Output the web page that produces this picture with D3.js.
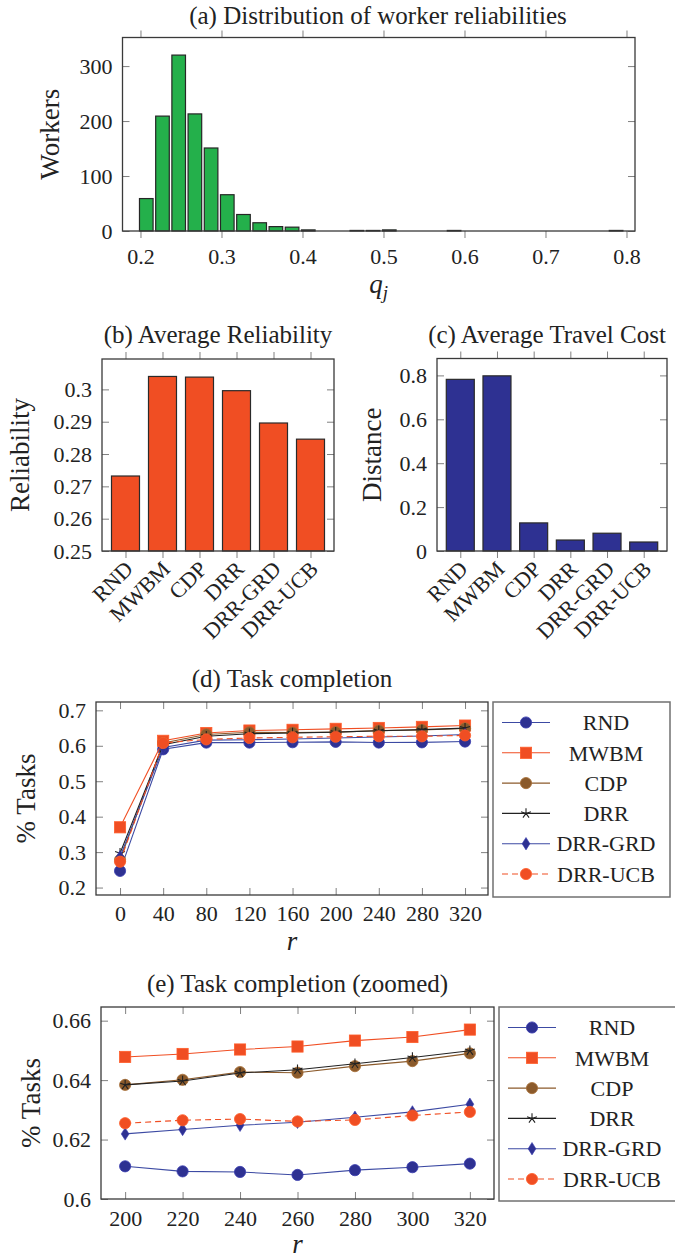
<!DOCTYPE html>
<html>
<head>
<meta charset="utf-8">
<script src="https://cdn.jsdelivr.net/npm/d3@7"></script>
<style>
  html, body { margin: 0; padding: 0; background: #fff; }
  svg text { font-family: "Liberation Serif", "DejaVu Serif", serif; fill: #222; }
</style>
</head>
<body>
<svg id="chart" width="675" height="1259"></svg>
<script>
// (a) histogram of worker reliabilities, bins of width 0.02
const binStarts = [0.20, 0.22, 0.24, 0.26, 0.28, 0.30, 0.32, 0.34, 0.36, 0.38,
                   0.40, 0.42, 0.44, 0.46, 0.48, 0.50, 0.52, 0.54, 0.56, 0.58,
                   0.60, 0.62, 0.64, 0.66, 0.68, 0.70, 0.72, 0.74, 0.76, 0.78];
const workerCounts = [59, 209, 320, 213, 151, 66, 30, 15, 8, 7,
                      2, 0, 0, 1, 1, 2, 0, 0, 0, 1,
                      0, 0, 0, 0, 0, 0, 0, 0, 0, 1];

// (b) and (c) per method
const methods = ['RND', 'MWBM', 'CDP', 'DRR', 'DRR-GRD', 'DRR-UCB'];
const avgReliability = [0.2732, 0.3040, 0.3038, 0.2996, 0.2896, 0.2846];
const avgDistance = [0.782, 0.798, 0.128, 0.050, 0.081, 0.041];

// (d) task completion over r
const rFull = [0, 40, 80, 120, 160, 200, 240, 280, 320];
const fullRND     = [0.247, 0.590, 0.609, 0.609, 0.610, 0.6110, 0.6091, 0.6097, 0.6119];
const fullMWBM    = [0.370, 0.614, 0.636, 0.643, 0.645, 0.6478, 0.6503, 0.6533, 0.6570];
const fullCDP     = [0.278, 0.608, 0.632, 0.638, 0.637, 0.6384, 0.6427, 0.6447, 0.6490];
const fullDRR     = [0.297, 0.603, 0.627, 0.634, 0.636, 0.6384, 0.6424, 0.6455, 0.6499];
const fullDRRGRD  = [0.287, 0.595, 0.616, 0.617, 0.619, 0.6219, 0.6248, 0.6275, 0.6319];
const fullDRRUCB  = [0.273, 0.608, 0.618, 0.622, 0.624, 0.6255, 0.6269, 0.6266, 0.6293];

// (e) zoomed, r = 200..320
const rZoom = [200, 220, 240, 260, 280, 300, 320];
const zoomRND     = [0.6110, 0.6093, 0.6091, 0.6081, 0.6097, 0.6107, 0.6119];
const zoomMWBM    = [0.6478, 0.6488, 0.6503, 0.6513, 0.6533, 0.6545, 0.6570];
const zoomCDP     = [0.6384, 0.6401, 0.6427, 0.6425, 0.6447, 0.6464, 0.6490];
const zoomDRR     = [0.6384, 0.6397, 0.6424, 0.6435, 0.6455, 0.6476, 0.6499];
const zoomDRRGRD  = [0.6219, 0.6234, 0.6248, 0.6258, 0.6275, 0.6293, 0.6319];
const zoomDRRUCB  = [0.6255, 0.6265, 0.6269, 0.6261, 0.6266, 0.6281, 0.6293];

const svg = d3.select('#chart');
const TICK = 7;
const FS_TICK = 22, FS_TITLE = 25, FS_LABEL = 27, FS_LEGEND = 22;

const BLUE = '#2e3192', ORANGE = '#f04e23', BROWN = '#8b5a2b', GREEN = '#24b04b';

// line style for each method (same order as methods)
const lineStyles = [
  { color: BLUE,   line: '#3c4aa3', mark: 'circle',  dash: null },
  { color: ORANGE, line: ORANGE,    mark: 'square',  dash: null },
  { color: BROWN,  line: BROWN,     mark: 'circle',  dash: null },
  { color: '#222', line: '#222',    mark: 'star',    dash: null },
  { color: BLUE,   line: '#3c4aa3', mark: 'diamond', dash: null },
  { color: ORANGE, line: ORANGE,    mark: 'circle',  dash: '6,4' }
];

function styleAxis(sel, fs) {
  sel.attr('font-family', null).attr('font-size', null);
  sel.select('.domain').remove();
  sel.selectAll('.tick line').attr('stroke', '#808080').attr('stroke-width', 1);
  sel.selectAll('.tick text').attr('fill', '#222').style('font-size', fs + 'px');
}

// axis box with pgfplots-like mirrored ticks
function frame(box, x, y, o) {
  const g = svg.append('g');
  const xk = o.xOutside ? TICK : -TICK;

  const bottom = d3.axisBottom(x).tickValues(o.xTicks).tickSizeInner(xk).tickSizeOuter(0)
    .tickPadding(o.xPad).tickFormat(o.xFmt || (d => d));
  g.append('g').attr('transform', `translate(0,${box.bottom})`).call(bottom).call(styleAxis, FS_TICK);

  const top = d3.axisTop(x).tickValues(o.xTicks).tickSizeInner(xk).tickSizeOuter(0).tickFormat('');
  g.append('g').attr('transform', `translate(0,${box.top})`).call(top).call(styleAxis, FS_TICK);

  const left = d3.axisLeft(y).tickValues(o.yTicks).tickSizeInner(-TICK).tickSizeOuter(0)
    .tickPadding(10).tickFormat(o.yFmt || (d => d));
  g.append('g').attr('transform', `translate(${box.left},0)`).call(left).call(styleAxis, FS_TICK);

  const right = d3.axisRight(y).tickValues(o.yTicks).tickSizeInner(-TICK).tickSizeOuter(0).tickFormat('');
  g.append('g').attr('transform', `translate(${box.right},0)`).call(right).call(styleAxis, FS_TICK);

  // title
  svg.append('text').attr('x', o.titleX).attr('y', o.titleY).attr('text-anchor', 'middle')
    .style('font-size', FS_TITLE + 'px').text(o.title);

  // y label
  svg.append('text')
    .attr('transform', `translate(${o.yLabelX},${(box.top + box.bottom) / 2}) rotate(-90)`)
    .attr('text-anchor', 'middle').attr('dy', '0.35em')
    .style('font-size', FS_LABEL + 'px').text(o.yLabel);
  return g;
}

function drawBox(box) {
  svg.append('rect')
    .attr('x', box.left).attr('y', box.top)
    .attr('width', box.right - box.left).attr('height', box.bottom - box.top)
    .attr('fill', 'none').attr('stroke', '#3a3a3a').attr('stroke-width', 1.3);
}

function italicLabel(x, y, main, sub) {
  const t = svg.append('text').attr('x', x).attr('y', y).attr('text-anchor', 'middle')
    .style('font-size', FS_LABEL + 'px');
  t.append('tspan').style('font-style', 'italic').text(main);
  if (sub) t.append('tspan').style('font-style', 'italic').style('font-size', '19px').attr('dy', 6).text(sub);
}

function marker(g, type, color) {
  if (type === 'circle') {
    g.append('circle').attr('r', 5.6).attr('fill', color)
      .attr('stroke', d3.color(color).brighter(0.5)).attr('stroke-width', 0.8);
  } else if (type === 'square') {
    g.append('rect').attr('x', -5.6).attr('y', -5.6).attr('width', 11.2).attr('height', 11.2)
      .attr('fill', color).attr('stroke', d3.color(color).brighter(0.5)).attr('stroke-width', 0.8);
  } else if (type === 'diamond') {
    g.append('path').attr('d', 'M0,-6.2L3.9,0L0,6.2L-3.9,0Z').attr('fill', color)
      .attr('stroke', d3.color(color).brighter(0.5)).attr('stroke-width', 0.6);
  } else if (type === 'star') {
    let d = '';
    for (let k = 0; k < 5; k++) {
      const a = -Math.PI / 2 + k * 2 * Math.PI / 5;
      d += `M0,0L${(5.2 * Math.cos(a)).toFixed(2)},${(5.2 * Math.sin(a)).toFixed(2)}`;
    }
    g.append('path').attr('d', d).attr('stroke', color).attr('stroke-width', 1.1).attr('fill', 'none');
  }
}

// ---------- (a) ----------
{
  const box = { left: 122.5, right: 635, top: 37.5, bottom: 231 };
  const x = d3.scaleLinear().domain([0.1778, 0.8105]).range([box.left, box.right]);
  const y = d3.scaleLinear().domain([0, 352]).range([box.bottom, box.top]);
  frame(box, x, y, {
    xTicks: [0.2, 0.3, 0.4, 0.5, 0.6, 0.7, 0.8], xOutside: true, xPad: 10,
    xFmt: d3.format('.1f'),
    yTicks: [0, 100, 200, 300],
    title: '(a) Distribution of worker reliabilities', titleX: 378, titleY: 23.5,
    yLabel: 'Workers', yLabelX: 50
  });
  const binPx = x(0.22) - x(0.20);
  svg.append('g').selectAll('rect')
    .data(binStarts.map((b, i) => ({ b, c: workerCounts[i] })))
    .enter().append('rect')
    .attr('x', d => x(d.b) - 1)
    .attr('y', d => y(d.c))
    .attr('width', binPx - 2.6)
    .attr('height', d => box.bottom - y(d.c))
    .attr('fill', GREEN).attr('stroke', '#262626').attr('stroke-width', 1.2);
  drawBox(box);
  italicLabel((box.left + box.right) / 2, 293, 'q', 'j');
}

// ---------- (b) and (c) ----------
function barPanel(box, values, yDomain, yTicks, yFmt, fill, title, titleX, yLabel, yLabelX) {
  const x = d3.scalePoint().domain(methods).range([box.left, box.right]).padding(0.635);
  const y = d3.scaleLinear().domain(yDomain).range([box.bottom, box.top]);
  const g = frame(box, x, y, {
    xTicks: methods, xOutside: true, xPad: 4, xFmt: d => d,
    yTicks, yFmt, title, titleX, titleY: 343, yLabel, yLabelX
  });
  // rotated category labels
  g.selectAll('.tick text')
    .filter(function () { return methods.includes(this.textContent); })
    .attr('text-anchor', 'end').attr('dy', null).attr('y', null)
    .attr('dominant-baseline', 'central')
    .attr('transform', 'translate(3,14) rotate(-45)');
  svg.append('g').selectAll('rect')
    .data(methods.map((m, i) => ({ m, v: values[i] })))
    .enter().append('rect')
    .attr('x', d => x(d.m) - 14)
    .attr('y', d => y(d.v))
    .attr('width', 28)
    .attr('height', d => box.bottom - y(d.v))
    .attr('fill', fill).attr('stroke', '#2a2a2a').attr('stroke-width', 1.2);
  drawBox(box);
}

barPanel({ left: 102, right: 334, top: 359, bottom: 551 }, avgReliability, [0.25, 0.3094],
  [0.25, 0.26, 0.27, 0.28, 0.29, 0.30], d => (d === 0.3 ? '0.3' : d3.format('.2f')(d)),
  ORANGE, '(b) Average Reliability', 218, 'Reliability', 20);

barPanel({ left: 437, right: 667, top: 358.5, bottom: 551 }, avgDistance, [0, 0.877],
  [0, 0.2, 0.4, 0.6, 0.8], d => (d === 0 ? '0' : d3.format('.1f')(d)),
  BLUE, '(c) Average Travel Cost', 547, 'Distance', 372);

// ---------- (d) and (e) ----------
function linePanel(box, rs, seriesList, xDomain, yDomain, xTicks, yTicks, yFmt, title, legendBox, xPad) {
  const x = d3.scaleLinear().domain(xDomain).range([box.left, box.right]);
  const y = d3.scaleLinear().domain(yDomain).range([box.bottom, box.top]);
  frame(box, x, y, {
    xTicks, xOutside: false, xPad,
    yTicks, yFmt, title, titleX: (box.left + box.right) / 2, titleY: box.top - 15,
    yLabel: '% Tasks', yLabelX: box.left - 70
  });
  const line = d3.line().x((d, i) => x(rs[i])).y(d => y(d));
  seriesList.forEach((vals, si) => {
    const st = lineStyles[si];
    const g = svg.append('g');
    g.append('path').datum(vals).attr('d', line)
      .attr('fill', 'none').attr('stroke', st.line).attr('stroke-width', 1.1)
      .attr('stroke-dasharray', st.dash);
    vals.forEach((v, i) => {
      marker(g.append('g').attr('transform', `translate(${x(rs[i])},${y(v)})`), st.mark, st.color);
    });
  });
  drawBox(box);

  // legend
  const lg = svg.append('g');
  lg.append('rect').attr('x', legendBox.left).attr('y', legendBox.top)
    .attr('width', legendBox.right - legendBox.left).attr('height', legendBox.bottom - legendBox.top)
    .attr('fill', '#fff').attr('stroke', '#707070').attr('stroke-width', 1.5);
  methods.forEach((m, i) => {
    const st = lineStyles[i];
    const yy = legendBox.top + 20.5 + i * 30.3;
    const x0 = legendBox.left;
    lg.append('line').attr('x1', x0 + 9).attr('x2', x0 + 57).attr('y1', yy).attr('y2', yy)
      .attr('stroke', st.line).attr('stroke-width', 1.1).attr('stroke-dasharray', st.dash);
    marker(lg.append('g').attr('transform', `translate(${x0 + 33},${yy})`), st.mark, st.color);
    lg.append('text').attr('x', x0 + 113).attr('y', yy).attr('dy', '0.35em')
      .attr('text-anchor', 'middle').style('font-size', FS_LEGEND + 'px').text(m);
  });
}

linePanel({ left: 96, right: 488, top: 702, bottom: 895 }, rFull,
  [fullRND, fullMWBM, fullCDP, fullDRR, fullDRRGRD, fullDRRUCB],
  [-22.3, 341.3], [0.179, 0.7235], rFull, [0.2, 0.3, 0.4, 0.5, 0.6, 0.7], d3.format('.1f'),
  '(d) Task completion', { left: 493, right: 670, top: 702, bottom: 897 }, 10);
italicLabel(292, 950, 'r');

linePanel({ left: 101, right: 494, top: 1007, bottom: 1199 }, rZoom,
  [zoomRND, zoomMWBM, zoomCDP, zoomDRR, zoomDRRGRD, zoomDRRUCB],
  [191.6, 328.4], [0.6, 0.6646], rZoom, [0.6, 0.62, 0.64, 0.66], d => (d === 0.6 ? '0.6' : d3.format('.2f')(d)),
  '(e) Task completion (zoomed)', { left: 499, right: 682, top: 1007, bottom: 1201 }, 11);
italicLabel(297.5, 1253, 'r');
</script>
</body>
</html>
